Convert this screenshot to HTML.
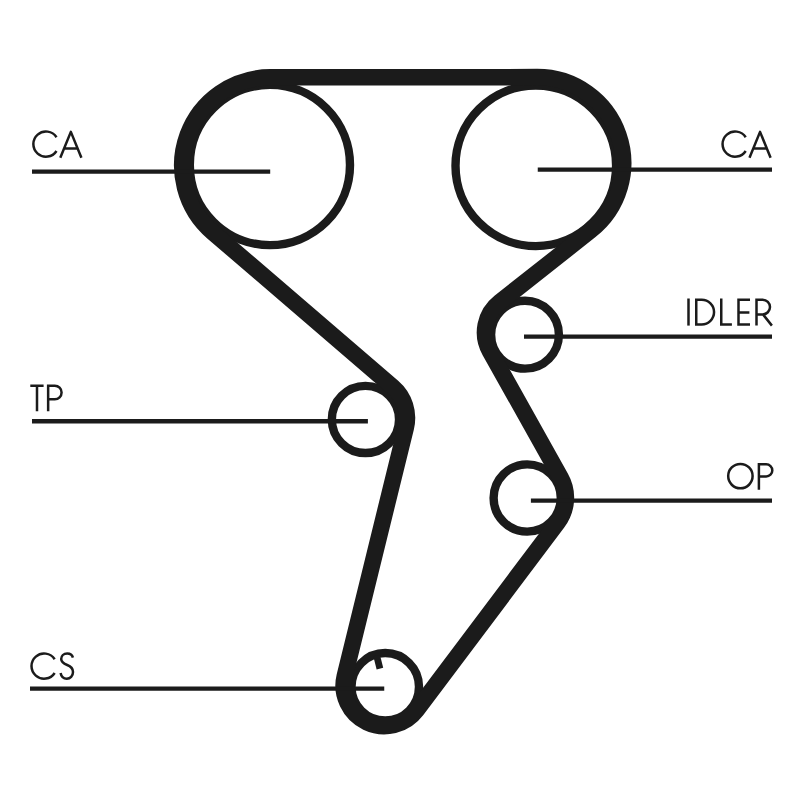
<!DOCTYPE html>
<html><head><meta charset="utf-8"><style>html,body{margin:0;padding:0;background:#fff;width:800px;height:800px;overflow:hidden}svg{display:block}</style></head><body>
<svg width="800" height="800" viewBox="0 0 800 800">
<rect width="800" height="800" fill="#fff"/>
<g>
<circle cx="269.90" cy="165.00" r="80.10" fill="none" stroke="#1b1b1b" stroke-width="8.40"/>
<circle cx="535.80" cy="165.80" r="80.30" fill="none" stroke="#1b1b1b" stroke-width="8.40"/>
<circle cx="525.00" cy="334.70" r="33.90" fill="none" stroke="#1b1b1b" stroke-width="8.40"/>
<circle cx="527.20" cy="498.00" r="33.60" fill="none" stroke="#1b1b1b" stroke-width="8.40"/>
<circle cx="385.25" cy="686.80" r="33.75" fill="none" stroke="#1b1b1b" stroke-width="8.40"/>
<circle cx="365.45" cy="419.45" r="33.60" fill="none" stroke="#1b1b1b" stroke-width="8.40"/>
<path d="M212.92 232.40 A88.17 88.17 0 0 1 270.31 77.36 L537.10 77.12 A85.99 85.99 0 0 1 590.42 230.64 L499.58 302.26 A38.36 38.36 0 0 0 489.87 351.13 L560.64 477.45 A41.42 41.42 0 0 1 557.62 522.59 L416.74 710.00 A40.65 40.65 0 0 1 344.78 675.87 L405.81 427.69 A40.82 40.82 0 0 0 392.78 386.98 Z" fill="none" stroke="#1b1b1b" stroke-width="16.50" stroke-linejoin="round"/>
<path d="M32.00 171.60H270.20" stroke="#1b1b1b" stroke-width="4.30"/>
<path d="M537.75 169.55H772.00" stroke="#1b1b1b" stroke-width="4.30"/>
<path d="M524.00 336.60H772.00" stroke="#1b1b1b" stroke-width="4.30"/>
<path d="M530.90 500.70H772.00" stroke="#1b1b1b" stroke-width="4.30"/>
<path d="M32.00 421.25H367.90" stroke="#1b1b1b" stroke-width="4.30"/>
<path d="M30.00 688.60H384.25" stroke="#1b1b1b" stroke-width="4.30"/>
<path d="M376.6 655.5 L379.9 668.6" stroke="#1b1b1b" stroke-width="6.80"/>
<g fill="none" stroke="#1b1b1b" stroke-width="2.50" stroke-linecap="butt" stroke-linejoin="miter">
<path d="M56.52 137.24 A12.6 12.6 0 1 0 56.52 150.96"/>
<path d="M60.3 157.8 L70.85 131.9 L81.4 157.8 M63.7 148.4 H77.9" stroke-linejoin="round"/>
<path d="M745.72 137.24 A12.6 12.6 0 1 0 745.72 150.96"/>
<path d="M749.5 157.8 L760.05 131.9 L770.6 157.8 M752.9 148.4 H767.1" stroke-linejoin="round"/>
<path d="M688.5 298.5 V325.6"/>
<path d="M696.25 299.7 H701.7 A12.35 12.35 0 0 1 701.7 324.4 H696.25 Z"/>
<path d="M721.25 298.5 V324.4 H731.9"/>
<path d="M750 299.7 H738.5 V324.4 H750 M738.5 312.5 H749.4"/>
<path d="M756.5 325.6 V299.7 H762.65 A7.35 7.35 0 0 1 762.65 314.4 H756.5 M763 314.4 L771.9 325.6"/>
<path d="M728.2 476.1 A12.2 12.2 0 1 0 752.6 476.1 A12.2 12.2 0 1 0 728.2 476.1 Z"/>
<path d="M758.9 489.8 V464.3 H766.2 A6.1 6.1 0 0 1 766.2 476.5 H758.9"/>
<path d="M30.3 385.7 H43.6 M37 385.7 V411.3"/>
<path d="M48.15 411.3 V385.7 H54.8 A6.8 6.8 0 0 1 54.8 399.3 H48.15"/>
<path d="M54.67 659.24 A12.6 12.6 0 1 0 54.67 672.96"/>
<path d="M72.9 657.6 C72.2 654.9 70.0 653.5 67.2 653.5 C63.6 653.5 61.2 655.8 61.2 659.0 C61.2 662.5 64.2 663.8 67.2 665.0 C70.5 666.3 73.0 668.0 73.0 672.0 C73.0 676.0 70.2 678.7 66.8 678.7 C63.5 678.7 61.2 676.3 60.6 673.0"/>
</g></g>
</svg>
</body></html>
